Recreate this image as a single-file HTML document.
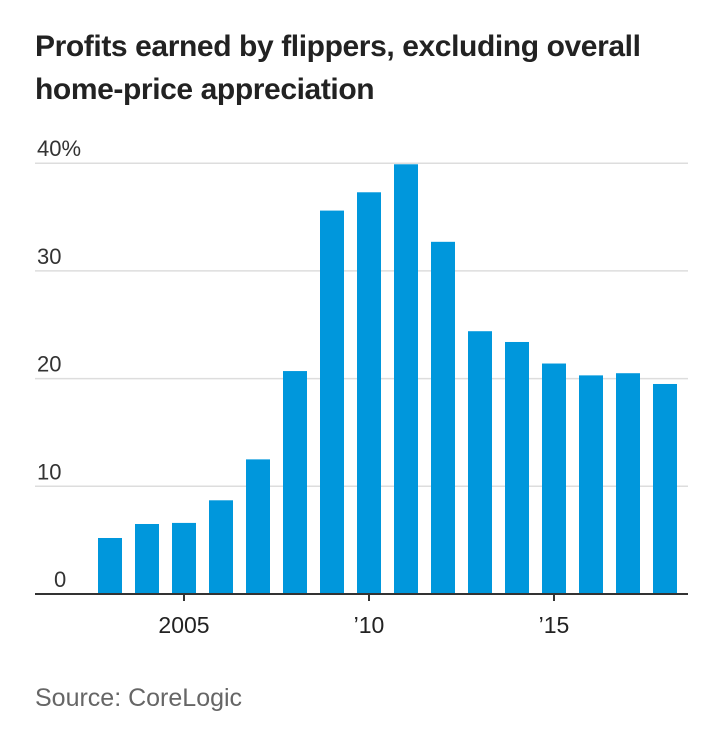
<!DOCTYPE html>
<html><head><meta charset="utf-8"><style>
body{margin:0;background:#fff;font-family:"Liberation Sans",sans-serif}
#t{position:absolute;left:35px;top:25px;font-weight:bold;font-size:30px;line-height:43px;color:#222;letter-spacing:-0.4px;white-space:nowrap}
#s{position:absolute;left:35px;top:684px;font-size:25px;color:#666}
</style></head><body>
<div id="t">Profits earned by flippers, excluding overall<br>home-price appreciation</div>
<svg id="c" width="720" height="751" style="position:absolute;left:0;top:0"></svg>
<div id="s">Source: CoreLogic</div>
<script>
const years=[2003,2004,2005,2006,2007,2008,2009,2010,2011,2012,2013,2014,2015,2016,2017,2018];
const values=[5.2,6.5,6.6,8.7,12.5,20.7,35.6,37.3,39.9,32.7,24.4,23.4,21.4,20.3,20.5,19.5];
const yTicks=[0,10,20,30,40];
const yTickLabels=["0","10","20","30","40%"];
const xTicks=[2005,2010,2015];
const xTickLabels=["2005","\u201910","\u201915"];
const svg=document.getElementById('c');
const NS='http://www.w3.org/2000/svg';
const y=v=>594-v*10.77;
const x=yr=>110+(yr-2003)*37;
function mk(tag,attrs){const e=document.createElementNS(NS,tag);for(const k in attrs)e.setAttribute(k,attrs[k]);svg.appendChild(e);return e;}
yTicks.forEach((v,i)=>{
 if(v>0){const g=mk('line',{x1:35,x2:688,y1:y(v),y2:y(v),stroke:'#ddd','stroke-width':1.5});
 
 }
 const t=mk('text',{x:i==0?54:37,y:y(v)-7,'font-size':22,fill:'#333','font-family':'Liberation Sans, sans-serif'});
 t.textContent=yTickLabels[i];
 
 
});
years.forEach((yr,i)=>{
 const r=mk('rect',{x:x(yr)-12,y:y(values[i]),width:24,height:594-y(values[i]),fill:'#0097dc'});
 
 
});
const ax=mk('line',{x1:35,x2:688,y1:594,y2:594,stroke:'#333','stroke-width':2});


xTicks.forEach((yr,i)=>{
 const tk=mk('line',{x1:x(yr),x2:x(yr),y1:594,y2:601,stroke:'#333','stroke-width':2});
 
 
 const t=mk('text',{x:x(yr),y:633,'font-size':23,fill:'#222','text-anchor':'middle','font-family':'Liberation Sans, sans-serif'});
 t.textContent=xTickLabels[i];
 
 
});
</script>
</body></html>
